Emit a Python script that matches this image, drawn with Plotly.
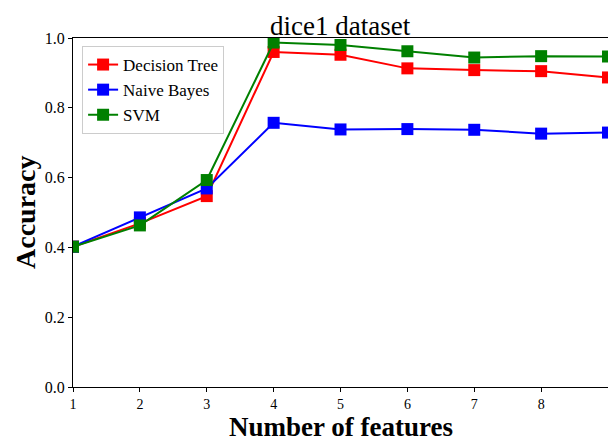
import plotly.graph_objects as go

features = [1, 2, 3, 4, 5, 6, 7, 8, 9]
decision_tree = [0.402, 0.469, 0.547, 0.960, 0.952, 0.913, 0.908, 0.905, 0.887]
naive_bayes = [0.402, 0.486, 0.569, 0.757, 0.738, 0.739, 0.737, 0.726, 0.729]
svm = [0.402, 0.463, 0.593, 0.987, 0.980, 0.962, 0.944, 0.948, 0.947]
series_names = ["Decision Tree", "Naive Bayes", "SVM"]
colors = ["#ff0000", "#0000ff", "#008000"]
x_ticks = [1, 2, 3, 4, 5, 6, 7, 8, 9]
y_ticks = [0.0, 0.2, 0.4, 0.6, 0.8, 1.0]

SERIF = "Liberation Serif"

fig = go.Figure()
for name, vals, c in zip(series_names, [decision_tree, naive_bayes, svm], colors):
    fig.add_trace(go.Scatter(
        x=features, y=vals, name=name, mode="lines+markers", legendgroup=name,
        line=dict(color=c, width=2),
        marker=dict(symbol="square", size=12, color=c),
    ))

W, H = 608, 441
L, R, T, B = 73, 0, 38, 54
pw, ph = W - L - R, H - T - B

fig.update_layout(
    width=W, height=H,
    margin=dict(l=L, r=R, t=T, b=B, autoexpand=False),
    paper_bgcolor="white", plot_bgcolor="white",
    font=dict(family=SERIF, color="black"),
    showlegend=True,
    legend=dict(x=0.017, y=1 - 8 / ph, xanchor="left", yanchor="top",
                bgcolor="white", bordercolor="#cccccc", borderwidth=1,
                font=dict(family=SERIF, size=17, color="black"),
                tracegroupgap=0),
    annotations=[
        dict(text="dice1 dataset", xref="paper", yref="paper", x=0.5, y=1 + 12 / ph,
             xanchor="center", yanchor="middle", showarrow=False,
             font=dict(family=SERIF, size=27, color="black")),
        dict(text="<b>Number of features</b>", xref="paper", yref="paper", x=0.5, y=-40 / ph,
             xanchor="center", yanchor="middle", showarrow=False,
             font=dict(family=SERIF, size=27, color="black")),
        dict(text="<b>Accuracy</b>", xref="paper", yref="paper", x=-47.5 / pw, y=0.5,
             xanchor="center", yanchor="middle", showarrow=False, textangle=-90,
             font=dict(family=SERIF, size=28, color="black")),
    ],
)
fig.update_xaxes(
    range=[1, 9], tickvals=x_ticks, ticktext=[str(t) for t in x_ticks],
    showgrid=False, zeroline=False, showline=True, linecolor="black", linewidth=1,
    mirror=True, ticks="outside", ticklen=4, tickcolor="black", automargin=False,
    tickfont=dict(family=SERIF, size=14, color="black"),
)
fig.update_yaxes(
    range=[0, 1], tickvals=y_ticks, ticktext=[f"{t:.1f}" for t in y_ticks],
    showgrid=False, zeroline=False, showline=True, linecolor="black", linewidth=1,
    ticks="outside", ticklen=4, tickcolor="black", automargin=False,
    tickfont=dict(family=SERIF, size=16, color="black"),
)

fig.write_html(
    "out.html",
    config={"displayModeBar": False},
    post_script="document.body.style.margin='0';document.body.style.padding='0';",
)
